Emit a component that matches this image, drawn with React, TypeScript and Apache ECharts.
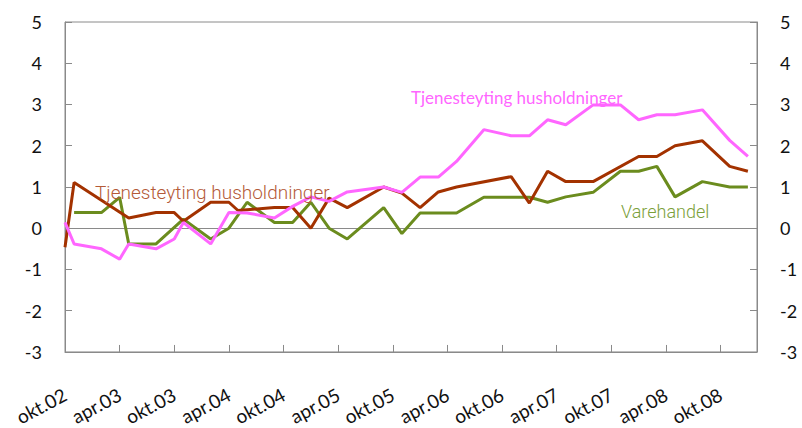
import React, { useEffect, useRef } from "react";
import * as echarts from "echarts";

// Month names (Norwegian) used for the category labels
const MONTHS = ["jan", "feb", "mar", "apr", "mai", "jun", "jul", "aug", "sep", "okt", "nov", "des"];
const START_YEAR = 2002;
const START_MONTH = 9; // okt
const N_MONTHS = 77;

// [month index from okt.02, value]
const totalSeries: [number, number][] = [
  [0, -0.46], [1, 1.11], [7, 0.25], [10, 0.38], [12, 0.38], [13, 0.17], [16, 0.63], [18, 0.63],
  [19, 0.43], [23, 0.5], [25, 0.5], [27, 0.0], [29, 0.73], [31, 0.5], [35, 1.0], [37, 0.85],
  [39, 0.5], [41, 0.88], [43, 1.0], [49, 1.25], [51, 0.61], [53, 1.38], [55, 1.13], [58, 1.13],
  [63, 1.74], [65, 1.74], [67, 2.0], [70, 2.12], [73, 1.5], [75, 1.38],
];

const varehandel: [number, number][] = [
  [1, 0.38], [4, 0.38], [6, 0.75], [7, -0.38], [10, -0.38], [13, 0.22], [16, -0.26], [18, 0.0],
  [20, 0.63], [23, 0.14], [25, 0.14], [27, 0.63], [29, 0.0], [31, -0.26], [35, 0.5], [37, -0.13],
  [39, 0.37], [43, 0.37], [46, 0.75], [51, 0.75], [53, 0.63], [55, 0.76], [58, 0.87], [61, 1.38],
  [63, 1.38], [65, 1.5], [67, 0.76], [70, 1.13], [73, 1.0], [75, 1.0],
];

const tjenesteyting: [number, number][] = [
  [0, 0.14], [1, -0.38], [4, -0.5], [6, -0.75], [7, -0.38], [10, -0.5], [12, -0.26], [13, 0.14],
  [16, -0.38], [18, 0.38], [20, 0.37], [23, 0.25], [25, 0.53], [27, 0.76], [29, 0.65], [31, 0.88],
  [35, 1.0], [37, 0.87], [39, 1.24], [41, 1.24], [43, 1.62], [46, 2.39], [49, 2.24], [51, 2.24],
  [53, 2.63], [55, 2.51], [58, 2.99], [61, 2.99], [63, 2.63], [65, 2.75], [67, 2.75], [70, 2.87],
  [73, 2.13], [75, 1.74],
];

const Y_MIN = -3;
const Y_MAX = 5;

const categories: string[] = [];
for (let i = 0; i < N_MONTHS; i++) {
  const m = (START_MONTH + i) % 12;
  const y = START_YEAR + Math.floor((START_MONTH + i) / 12);
  categories.push(`${MONTHS[m]}.${String(y % 100).padStart(2, "0")}`);
}

const AXIS_COLOR = "#8a8a8a";
const LABEL_FONT = "Lato";

export default function App() {
  const ref = useRef<HTMLDivElement>(null);
  useEffect(() => {
    if (!ref.current) return;
    const chart = echarts.init(ref.current, null, { renderer: "svg" });
    const yAxisCommon = {
      type: "value" as const,
      min: Y_MIN,
      max: Y_MAX,
      interval: 1,
      axisLine: { show: true, lineStyle: { color: AXIS_COLOR, width: 1 } },
      axisTick: { show: true, inside: true, length: 7, lineStyle: { color: AXIS_COLOR } },
      splitLine: { show: false },
      axisLabel: { color: "#111", fontFamily: LABEL_FONT, fontSize: 18, margin: 23 },
    };
    chart.setOption({
      animation: false,
      backgroundColor: "#fff",
      grid: {
        left: 65,
        right: 45,
        top: 22,
        bottom: 76,
        show: true,
        borderColor: AXIS_COLOR,
        borderWidth: 1,
        backgroundColor: "transparent",
      },
      xAxis: {
        type: "category",
        data: categories,
        boundaryGap: false,
        axisLine: { show: true, lineStyle: { color: AXIS_COLOR, width: 1 }, onZero: false },
        axisTick: { show: true, inside: true, length: 7, interval: 5, lineStyle: { color: AXIS_COLOR } },
        axisLabel: {
          interval: 5,
          rotate: 28,
          margin: 41,
          color: "#111",
          fontFamily: LABEL_FONT,
          fontSize: 19,
        },
        splitLine: { show: false },
      },
      yAxis: [
        { ...yAxisCommon, position: "left" },
        { ...yAxisCommon, position: "right" },
      ],
      series: [
        {
          name: "Varehandel",
          type: "line",
          data: varehandel,
          showSymbol: false,
          lineStyle: { color: "#6B8C1E", width: 3 },
          itemStyle: { color: "#6B8C1E" },
          silent: true,
          z: 3,
          markLine: {
            silent: true,
            symbol: ["none", "none"],
            label: { show: false },
            lineStyle: { color: AXIS_COLOR, width: 1, type: "solid" },
            data: [{ yAxis: 0 }],
            z: 1,
          },
        },
        {
          name: "Total",
          type: "line",
          data: totalSeries,
          showSymbol: false,
          lineStyle: { color: "#A33200", width: 3 },
          itemStyle: { color: "#A33200" },
          silent: true,
          z: 4,
        },
        {
          name: "Tjenesteyting husholdninger",
          type: "line",
          data: tjenesteyting,
          showSymbol: false,
          lineStyle: { color: "#FF66FF", width: 3 },
          itemStyle: { color: "#FF66FF" },
          silent: true,
          z: 5,
        },
      ],
      graphic: [
        {
          type: "text",
          x: 95,
          y: 192,
          z: 10,
          style: {
            text: "Tjenesteyting husholdninger",
            fill: "#B45A38",
            font: "300 19px Roboto",
            textVerticalAlign: "middle",
          },
        },
        {
          type: "text",
          x: 411,
          y: 97,
          z: 10,
          style: {
            text: "Tjenesteyting husholdninger",
            fill: "#FF66FF",
            font: "17px Lato",
            textVerticalAlign: "middle",
          },
        },
        {
          type: "text",
          x: 621,
          y: 211,
          z: 10,
          style: {
            text: "Varehandel",
            fill: "#7BA03A",
            font: "300 18px Roboto",
            textVerticalAlign: "middle",
          },
        },
      ],
    });
    return () => chart.dispose();
  }, []);
  return (
    <div
      ref={ref}
      style={{ position: "fixed", left: 0, top: 0, width: 802, height: 428 }}
    />
  );
}
